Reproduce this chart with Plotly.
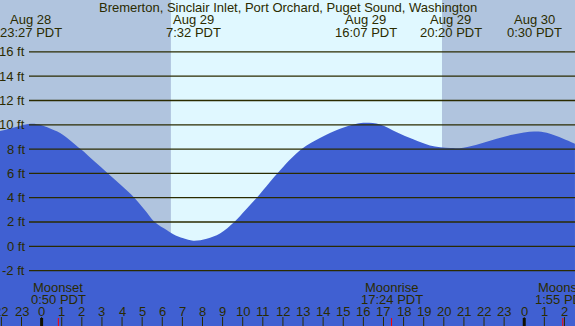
import plotly.graph_objects as go

# ---- data ----
# hours relative to Aug 29 00:00 PDT
tide_hours = [-2.07, -1.32, -0.55, 0.00, 0.42, 0.92, 1.94, 2.62, 3.30, 3.97, 4.61, 5.12,
              5.62, 6.22, 6.55, 7.05, 7.54, 8.21, 8.87, 9.58, 10.15, 10.70, 11.72, 12.93,
              13.84, 14.84, 15.67, 16.12, 16.83, 17.66, 18.48, 19.31, 20.33, 20.97, 21.80,
              22.63, 23.46, 24.50, 25.12, 25.94, 26.52]
tide_ft = [9.48, 9.80, 10.08, 9.97, 9.70, 9.33, 8.00, 7.00, 6.00, 5.00, 4.00, 3.00,
           2.00, 1.34, 1.00, 0.66, 0.46, 0.62, 1.05, 2.00, 3.00, 4.00, 6.00, 8.00,
           8.91, 9.67, 10.08, 10.16, 10.02, 9.39, 8.80, 8.30, 8.08, 8.11, 8.44,
           8.85, 9.20, 9.45, 9.34, 8.85, 8.44]

extreme_hours = [-0.55, 7.533, 16.117, 20.333, 24.5]
extreme_dates = ["Aug 28", "Aug 29", "Aug 29", "Aug 29", "Aug 30"]
extreme_times = ["23:27 PDT", "7:32 PDT", "16:07 PDT", "20:20 PDT", "0:30 PDT"]

sunrise_h = 6.43
sunset_h = 19.91

moon_hours = [0.833, 17.4, 25.917]
moon_events = ["Moonset", "Moonrise", "Moonset"]
moon_times = ["0:50 PDT", "17:24 PDT", "1:55 PDT"]

hour_ticks = list(range(-2, 27))
hour_labels = [str(h % 24) for h in hour_ticks]
midnights = [0, 24]

grid_ft = [-2, 0, 2, 4, 6, 8, 10, 12, 14, 16]
grid_labels = [f"{v} ft" for v in grid_ft]

title = "Bremerton, Sinclair Inlet, Port Orchard, Puget Sound, Washington"

# ---- style ----
W, H = 575, 326
XR = [-2.069, 26.524]
YR = [-6.56, 20.27]
NIGHT = "#B0C4DE"
DAY = "#E0F8FF"
WATER = "#4060D2"
INK = "#2b2b00"
FONT = "Liberation Sans, Arial, sans-serif"


def py(p):
    return 1 - p / H


fig = go.Figure()
fig.add_trace(go.Scatter(x=XR, y=[YR[0], YR[0]], mode="lines",
                         line=dict(width=0), hoverinfo="skip", showlegend=False))
fig.add_trace(go.Scatter(x=tide_hours, y=tide_ft, mode="lines", fill="tonexty",
                         fillcolor=WATER,
                         line=dict(width=0, color=WATER, shape="spline", smoothing=1.0),
                         hoverinfo="skip", showlegend=False))

shapes = []
# day/night background
shapes.append(dict(type="rect", xref="x", yref="paper", x0=XR[0], x1=sunrise_h, y0=0, y1=1,
                   fillcolor=NIGHT, line=dict(width=0), layer="below"))
shapes.append(dict(type="rect", xref="x", yref="paper", x0=sunrise_h, x1=sunset_h, y0=0, y1=1,
                   fillcolor=DAY, line=dict(width=0), layer="below"))
shapes.append(dict(type="rect", xref="x", yref="paper", x0=sunset_h, x1=XR[1], y0=0, y1=1,
                   fillcolor=NIGHT, line=dict(width=0), layer="below"))
# grid lines
for v in grid_ft:
    shapes.append(dict(type="line", xref="paper", yref="y", x0=29 / W, x1=1, y0=v, y1=v,
                       line=dict(color=INK, width=1.3), layer="above"))
# hour ticks
for h in hour_ticks:
    shapes.append(dict(type="line", xref="x", yref="paper", x0=h, x1=h, y0=0, y1=py(317),
                       line=dict(color=INK, width=1)))
for h in midnights:
    shapes.append(dict(type="line", xref="x", yref="paper", x0=h, x1=h, y0=0, y1=py(318),
                       line=dict(color="#111100", width=3)))
for h in moon_hours:
    shapes.append(dict(type="line", xref="x", yref="paper", x0=h, x1=h, y0=0, y1=py(318),
                       line=dict(color="#ff0000", width=1)))

ann = []
font = dict(family=FONT, size=13, color=INK)
ann.append(dict(text=title, x=0.5, xref="paper", y=py(7.5), yref="paper",
                xanchor="center", yanchor="middle", showarrow=False, font=font))
for h, d, t in zip(extreme_hours, extreme_dates, extreme_times):
    ann.append(dict(text=d, x=h, xref="x", y=py(20), yref="paper", xanchor="center",
                    yanchor="middle", showarrow=False, font=font))
    ann.append(dict(text=t, x=h, xref="x", y=py(32.5), yref="paper", xanchor="center",
                    yanchor="middle", showarrow=False, font=font))
for v, lab in zip(grid_ft, grid_labels):
    ann.append(dict(text=lab, x=27 / W, xref="paper", y=v, yref="y", xanchor="right",
                    yanchor="middle", showarrow=False, font=font))
for h, e, t in zip(moon_hours, moon_events, moon_times):
    ann.append(dict(text=e, x=h, xref="x", y=py(287), yref="paper", xanchor="center",
                    yanchor="middle", showarrow=False, font=font))
    ann.append(dict(text=t, x=h, xref="x", y=py(299.5), yref="paper", xanchor="center",
                    yanchor="middle", showarrow=False, font=font))
for h, lab in zip(hour_ticks, hour_labels):
    ann.append(dict(text=lab, x=h, xref="x", y=py(311.5), yref="paper", xanchor="center",
                    yanchor="middle", showarrow=False, font=font))

fig.update_layout(
    width=W, height=H,
    margin=dict(l=0, r=0, t=0, b=0, pad=0),
    paper_bgcolor=NIGHT, plot_bgcolor=NIGHT,
    xaxis=dict(range=XR, visible=False, fixedrange=True),
    yaxis=dict(range=YR, visible=False, fixedrange=True),
    shapes=shapes, annotations=ann, showlegend=False,
)
fig.write_html("out.html", config={"displayModeBar": False},
               post_script="document.body.style.margin='0px';document.body.style.overflow='hidden';")
